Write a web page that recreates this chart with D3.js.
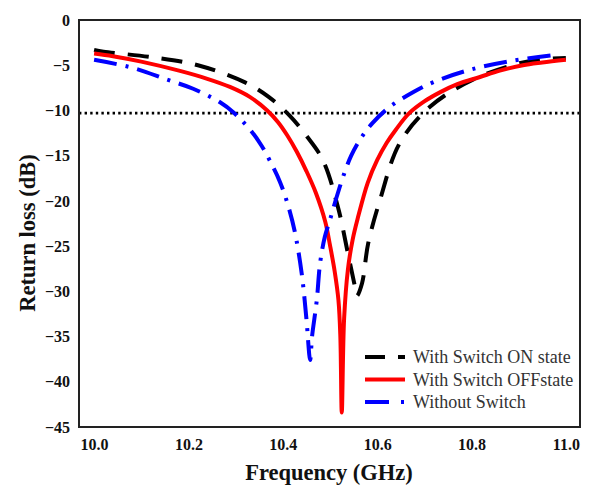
<!DOCTYPE html>
<html>
<head>
<meta charset="utf-8">
<script src="https://cdn.jsdelivr.net/npm/d3@7"></script>
<style>
  body { margin: 0; background: #fff; }
  svg { font-family: "Liberation Serif", "Times New Roman", serif; }
</style>
</head>
<body>
<svg width="590" height="492"></svg>
<script>
  // frequency (GHz) / return loss (dB)
  var onFreq = [10.0, 10.02, 10.12, 10.22, 10.32, 10.37, 10.415, 10.45, 10.485, 10.517, 10.538, 10.553, 10.557, 10.568, 10.581, 10.606, 10.648, 10.712, 10.803, 10.917, 11.0];
  var onLoss = [-3.3, -3.5, -4.1, -5.0, -6.9, -8.5, -10.6, -12.8, -15.5, -20.7, -25.8, -29.5, -30.5, -29.1, -24.7, -19.9, -13.6, -9.6, -6.6, -4.6, -4.2];

  var offFreq = [10.0, 10.04, 10.1, 10.18, 10.24, 10.288, 10.33, 10.367, 10.39, 10.41, 10.43, 10.45, 10.47, 10.49, 10.50, 10.51, 10.518, 10.522, 10.525, 10.53, 10.538, 10.548, 10.559, 10.58, 10.60, 10.62, 10.64, 10.668, 10.70, 10.733, 10.77, 10.818, 10.86, 10.909, 10.95, 11.0];
  var offLoss = [-3.7, -4.0, -4.6, -5.6, -6.5, -7.4, -8.5, -10.0, -11.3, -12.8, -14.6, -16.7, -19.1, -22.3, -24.9, -27.8, -31.0, -35.0, -43.4, -33.0, -27.6, -24.3, -21.9, -18.0, -15.5, -13.6, -12.1, -10.3, -9.0, -8.0, -7.1, -6.3, -5.6, -5.0, -4.7, -4.4];

  var noFreq = [10.0, 10.083, 10.155, 10.21, 10.267, 10.295, 10.335, 10.355, 10.373, 10.394, 10.41, 10.425, 10.44, 10.45, 10.458, 10.462, 10.472, 10.479, 10.489, 10.5, 10.514, 10.53, 10.545, 10.564, 10.59, 10.627, 10.676, 10.718, 10.797, 10.888, 10.973];
  var noLoss = [-4.4, -5.3, -6.6, -7.6, -9.1, -10.2, -12.4, -13.9, -15.6, -17.9, -20.3, -23.3, -28.0, -33.0, -37.6, -35.0, -31.0, -26.9, -24.0, -22.1, -19.6, -17.0, -15.0, -13.2, -11.4, -9.6, -8.0, -6.9, -5.5, -4.5, -3.9];

  var seriesNames = ["With Switch ON state", "With Switch OFFstate", "Without Switch"];
  var xTicks = [10.0, 10.2, 10.4, 10.6, 10.8, 11.0];
  var yTicks = [0, -5, -10, -15, -20, -25, -30, -35, -40, -45];
  var threshold = -10.3;

  var svg = d3.select("svg");
  var margin = { top: 20, left: 79, right: 10, bottom: 65 };
  var width = +svg.attr("width");
  var height = +svg.attr("height");
  var innerWidth = width - margin.left - margin.right;
  var innerHeight = height - margin.top - margin.bottom;

  var xScale = d3.scaleLinear().domain([9.968, 11.03]).range([0, innerWidth]);
  var yScale = d3.scaleLinear().domain([0, -45]).range([0, innerHeight]);

  var g = svg.append("g")
    .attr("transform", "translate(" + margin.left + "," + margin.top + ")");

  var toPoints = function (fs, ls) {
    return fs.map(function (f, i) { return [f, ls[i]]; });
  };

  var series = [
    { name: seriesNames[0], data: toPoints(onFreq, onLoss), color: "#000", dash: "21,13" },
    { name: seriesNames[1], data: toPoints(offFreq, offLoss), color: "#f00", dash: null },
    { name: seriesNames[2], data: toPoints(noFreq, noLoss), color: "#00f", dash: "23,9,3,9" }
  ];

  // axes (labels only, no tick marks)
  var xAxis = d3.axisBottom(xScale).tickValues(xTicks).tickFormat(d3.format(".1f")).tickSize(0).tickPadding(12);
  var yAxis = d3.axisLeft(yScale).tickValues(yTicks).tickFormat(d3.format("d")).tickSize(0).tickPadding(9);

  var xg = g.append("g").attr("transform", "translate(0," + innerHeight + ")").call(xAxis);
  var yg = g.append("g").call(yAxis);
  [xg, yg].forEach(function (a) {
    a.attr("font-family", "'Liberation Serif', serif").attr("font-size", 16).attr("font-weight", "bold");
    a.select(".domain").remove();
    a.selectAll("text").attr("fill", "#111");
  });

  // dotted -10 dB reference
  g.append("line")
    .attr("x1", 0).attr("x2", innerWidth)
    .attr("y1", yScale(threshold)).attr("y2", yScale(threshold))
    .attr("stroke", "#000").attr("stroke-width", 2.6)
    .attr("stroke-dasharray", "2.4,3.2");

  var line = d3.line()
    .x(function (d) { return xScale(d[0]); })
    .y(function (d) { return yScale(d[1]); })
    .curve(d3.curveCatmullRom.alpha(0.5));

  g.selectAll(".curve")
    .data(series)
    .enter()
    .append("path")
    .attr("class", "curve")
    .attr("d", function (d) { return line(d.data); })
    .attr("fill", "none")
    .attr("stroke", function (d) { return d.color; })
    .attr("stroke-width", 4)
    .attr("stroke-dasharray", function (d) { return d.dash; });

  // frame
  g.append("rect")
    .attr("width", innerWidth).attr("height", innerHeight)
    .attr("fill", "none").attr("stroke", "#222").attr("stroke-width", 2);

  // legend
  var legend = g.selectAll(".legend")
    .data(series)
    .enter()
    .append("g")
    .attr("class", "legend")
    .attr("transform", function (d, i) { return "translate(286," + (337 + i * 22.5) + ")"; });

  legend.append("line")
    .attr("x1", 0).attr("x2", 40)
    .attr("stroke", function (d) { return d.color; })
    .attr("stroke-width", 4)
    .attr("stroke-dasharray", function (d, i) { return i === 0 ? "20,13" : (i === 2 ? "24,12,3,9" : null); });

  legend.append("text")
    .attr("x", 48).attr("y", 6)
    .attr("fill", "#333")
    .attr("font-size", 18)
    .text(function (d) { return d.name; });

  // axis titles
  svg.append("text")
    .attr("x", 329).attr("y", 480)
    .attr("text-anchor", "middle")
    .attr("font-size", 22.5).attr("font-weight", "bold")
    .attr("fill", "#111")
    .text("Frequency (GHz)");

  svg.append("text")
    .attr("transform", "translate(35,233) rotate(-90)")
    .attr("text-anchor", "middle")
    .attr("font-size", 22.5).attr("font-weight", "bold")
    .attr("fill", "#111")
    .text("Return loss (dB)");
</script>
</body>
</html>
